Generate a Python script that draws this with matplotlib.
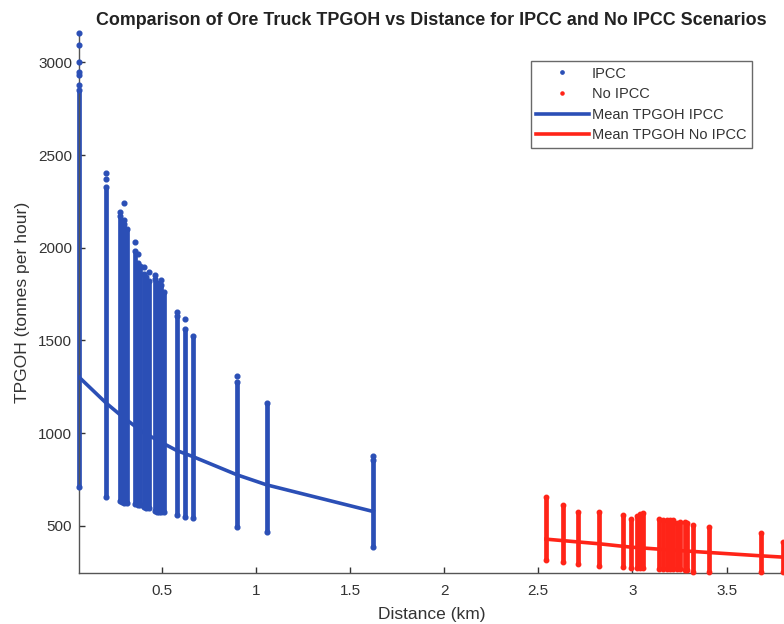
import matplotlib
matplotlib.use("Agg")
import matplotlib.pyplot as plt


# ==============================
# DATA
# ==============================
# IPCC scenario: haul distance (km) and TPGOH spread at each distance
IPCC_DIST = [0.061, 0.205, 0.278, 0.290, 0.302, 0.314, 0.360, 0.372, 0.384,
             0.404, 0.416, 0.430, 0.462, 0.474, 0.486, 0.498, 0.510, 0.580,
             0.624, 0.664, 0.900, 1.057, 1.624]
IPCC_MIN = [710, 658, 635, 630, 625, 625, 615, 612, 610,
            600, 598, 595, 578, 575, 572, 572, 575, 556,
            550, 541, 491, 469, 388]
IPCC_MAX = [2850, 2330, 2170, 2140, 2130, 2100, 1980, 1920, 1900,
            1860, 1840, 1820, 1830, 1810, 1790, 1800, 1760, 1630,
            1560, 1525, 1278, 1165, 856]

# isolated high readings above the dense bands
IPCC_OUT_DIST = [0.061, 0.061, 0.061, 0.061, 0.061, 0.061, 0.205, 0.205,
                 0.278, 0.302, 0.302, 0.360, 0.372, 0.404, 0.430, 0.462,
                 0.498, 0.580, 0.624, 0.900, 1.624]
IPCC_OUT_VAL = [2880, 2930, 2950, 3000, 3095, 3158, 2370, 2405,
                2195, 2240, 2150, 2033, 1967, 1895, 1868, 1854,
                1827, 1656, 1615, 1309, 877]

# No IPCC scenario
NOIPCC_DIST = [2.541, 2.633, 2.713, 2.824, 2.951, 2.991, 3.026, 3.040, 3.058,
               3.143, 3.164, 3.182, 3.199, 3.214, 3.235, 3.252, 3.279, 3.288,
               3.323, 3.407, 3.683, 3.800]
NOIPCC_MIN = [314, 305, 295, 284, 277, 272, 272, 272, 272,
              267, 267, 267, 267, 265, 265, 265, 263, 262,
              249, 249, 249, 249]
NOIPCC_MAX = [655, 613, 574, 574, 556, 536, 554, 563, 568,
              538, 533, 530, 533, 530, 515, 522, 518, 515,
              505, 493, 461, 410]

# mean TPGOH curves
MEAN_IPCC_DIST = [0.061, 0.205, 0.279, 0.394, 0.500, 0.580, 0.664, 0.900, 1.057, 1.624]
MEAN_IPCC_VAL = [1302, 1162, 1099, 1009, 949, 906, 874, 775, 721, 577]
MEAN_NOIPCC_DIST = [2.541, 2.824, 2.991, 3.182, 3.407, 3.683, 3.800]
MEAN_NOIPCC_VAL = [428, 403, 385, 371, 356, 338, 331]

X_TICKS = [0.5, 1, 1.5, 2, 2.5, 3, 3.5]
X_TICK_LABELS = ["0.5", "1", "1.5", "2", "2.5", "3", "3.5"]
Y_TICKS = [500, 1000, 1500, 2000, 2500, 3000]

BLUE = "#2b4fb6"
RED = "#ff2418"


# ==============================
# MAIN
# ==============================
def main():
    plt.rcParams["font.family"] = ["Liberation Sans", "DejaVu Sans"]

    fig = plt.figure(figsize=(7.84, 6.24), dpi=100)
    ax = fig.add_axes([0.1008, 0.0825, 0.8992, 0.8645])

    # dense bands of points drawn as thick vertical strokes
    ax.vlines(IPCC_DIST, IPCC_MIN, IPCC_MAX, colors=BLUE, linewidth=3.4,
              clip_on=False, zorder=2)
    ax.vlines(NOIPCC_DIST, NOIPCC_MIN, NOIPCC_MAX, colors=RED, linewidth=3.4,
              clip_on=False, zorder=2)

    # individual points
    ax.plot(IPCC_DIST + IPCC_DIST + IPCC_OUT_DIST,
            IPCC_MIN + IPCC_MAX + IPCC_OUT_VAL,
            linestyle="none", marker="o", markersize=3.4, color=BLUE,
            clip_on=False, zorder=3, label="IPCC")
    ax.plot(NOIPCC_DIST + NOIPCC_DIST, NOIPCC_MIN + NOIPCC_MAX,
            linestyle="none", marker="o", markersize=3.2, color=RED,
            clip_on=False, zorder=3, label="No IPCC")

    ax.plot(MEAN_IPCC_DIST, MEAN_IPCC_VAL, color=BLUE, linewidth=2.6,
            zorder=4, label="Mean TPGOH IPCC")
    ax.plot(MEAN_NOIPCC_DIST, MEAN_NOIPCC_VAL, color=RED, linewidth=2.6,
            zorder=4, label="Mean TPGOH No IPCC")

    ax.set_xlim(0.0608, 3.805)
    ax.set_ylim(248, 3158)

    ax.set_xticks(X_TICKS)
    ax.set_xticklabels(X_TICK_LABELS)
    ax.set_yticks(Y_TICKS)

    for side in ["top", "right"]:
        ax.spines[side].set_visible(False)
    for side in ["left", "bottom"]:
        ax.spines[side].set_color("#555555")
        ax.spines[side].set_linewidth(1.0)

    ax.tick_params(axis="both", direction="in", length=4, width=1.0,
                   color="#333333", labelcolor="#333333", labelsize=11)
    ax.tick_params(axis="x", pad=8)
    ax.tick_params(axis="y", pad=5)

    ax.set_xlabel("Distance (km)", fontsize=12.5, color="#333333", labelpad=7)
    ax.set_ylabel("TPGOH (tonnes per hour)", fontsize=12.6, color="#333333",
                  labelpad=6)
    ax.set_title("Comparison of Ore Truck TPGOH vs Distance for IPCC and No IPCC Scenarios",
                 fontsize=12.9, fontweight="bold", color="#222222", pad=6)

    handles, labels = ax.get_legend_handles_labels()
    leg = fig.legend(handles, labels, loc="upper left",
                     bbox_to_anchor=(530.7 / 784, 1 - 61 / 624),
                     fontsize=10.5, frameon=True, fancybox=False,
                     handlelength=3.6, handletextpad=0.2, labelspacing=0.45,
                     borderpad=0.38, borderaxespad=0.0, markerscale=0.7)
    leg.get_frame().set_edgecolor("#444444")
    leg.get_frame().set_linewidth(1.0)
    for text in leg.get_texts():
        text.set_color("#333333")

    fig.savefig("out.png", dpi=100)


# ==============================
# RUN
# ==============================
if __name__ == "__main__":
    main()
